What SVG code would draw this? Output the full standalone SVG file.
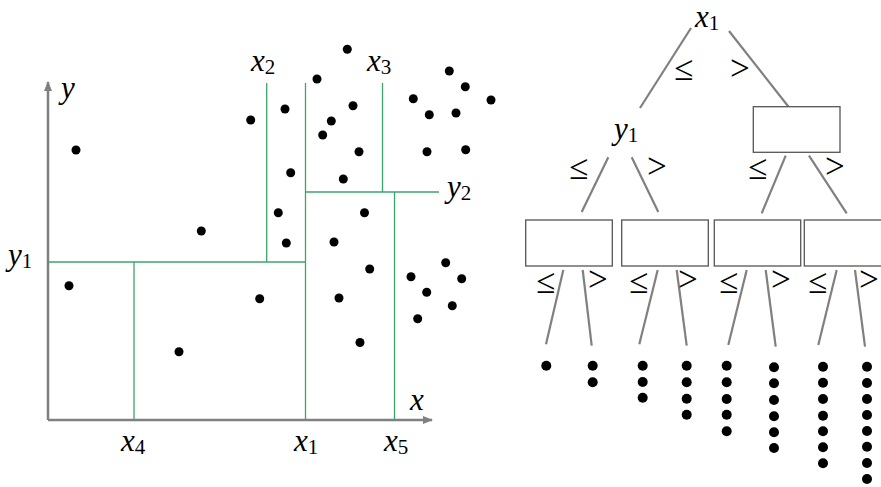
<svg xmlns="http://www.w3.org/2000/svg" width="881" height="487" viewBox="0 0 881 487">
<style>
.axis{stroke:#808080;stroke-width:2.5;fill:none}
.split{stroke:#3aa66b;stroke-width:1.3;fill:none}
.dot{fill:#000}
.edge{stroke:#808080;stroke-width:2.2;fill:none}
.box{stroke:#555;stroke-width:1.3;fill:#fff}
</style>
<defs>
<marker id="ah" viewBox="0 0 10 10" refX="9" refY="5" markerWidth="4" markerHeight="4" orient="auto" markerUnits="strokeWidth">
<path d="M0,1 L10,5 L0,9 z" fill="#808080"/>
</marker>
</defs>
<g id="plot">
<g id="axes">
<line class="axis" x1="48" y1="420" x2="48" y2="82" marker-end="url(#ah)"/>
<line class="axis" x1="48" y1="420" x2="432" y2="420" marker-end="url(#ah)"/>
</g>
<g id="splits">
<line class="split" x1="48" y1="262" x2="305" y2="262"/>
<line class="split" x1="134" y1="262" x2="134" y2="420"/>
<line class="split" x1="305.5" y1="83" x2="305.5" y2="420"/>
<line class="split" x1="266.7" y1="83" x2="266.7" y2="262"/>
<line class="split" x1="305" y1="192" x2="439" y2="192"/>
<line class="split" x1="382.5" y1="83" x2="382.5" y2="192"/>
<line class="split" x1="394.5" y1="192" x2="394.5" y2="420"/>
</g>
<g id="points">
<circle class="dot" cx="76" cy="150" r="4.5"/>
<circle class="dot" cx="250.7" cy="120" r="4.5"/>
<circle class="dot" cx="285" cy="109" r="4.5"/>
<circle class="dot" cx="290.7" cy="172.7" r="4.5"/>
<circle class="dot" cx="278.3" cy="212.7" r="4.5"/>
<circle class="dot" cx="286.3" cy="243" r="4.5"/>
<circle class="dot" cx="201.3" cy="231" r="4.5"/>
<circle class="dot" cx="69" cy="285.7" r="4.5"/>
<circle class="dot" cx="259.7" cy="298.7" r="4.5"/>
<circle class="dot" cx="179" cy="351.7" r="4.5"/>
<circle class="dot" cx="347.3" cy="49.3" r="4.5"/>
<circle class="dot" cx="317" cy="79" r="4.5"/>
<circle class="dot" cx="353" cy="105.7" r="4.5"/>
<circle class="dot" cx="331.3" cy="121" r="4.5"/>
<circle class="dot" cx="322.7" cy="135" r="4.5"/>
<circle class="dot" cx="359" cy="151.7" r="4.5"/>
<circle class="dot" cx="343.3" cy="179" r="4.5"/>
<circle class="dot" cx="449.3" cy="71" r="4.5"/>
<circle class="dot" cx="465.3" cy="86.7" r="4.5"/>
<circle class="dot" cx="413.3" cy="98.7" r="4.5"/>
<circle class="dot" cx="491" cy="100" r="4.5"/>
<circle class="dot" cx="429.3" cy="114.7" r="4.5"/>
<circle class="dot" cx="456" cy="113" r="4.5"/>
<circle class="dot" cx="427" cy="151.7" r="4.5"/>
<circle class="dot" cx="465.7" cy="149.7" r="4.5"/>
<circle class="dot" cx="364.5" cy="212.7" r="4.5"/>
<circle class="dot" cx="334" cy="242" r="4.5"/>
<circle class="dot" cx="369.7" cy="269" r="4.5"/>
<circle class="dot" cx="339" cy="298" r="4.5"/>
<circle class="dot" cx="360" cy="342.5" r="4.5"/>
<circle class="dot" cx="445.7" cy="262.7" r="4.5"/>
<circle class="dot" cx="411" cy="276.7" r="4.5"/>
<circle class="dot" cx="461.7" cy="278.7" r="4.5"/>
<circle class="dot" cx="426.7" cy="292.3" r="4.5"/>
<circle class="dot" cx="452.3" cy="305.7" r="4.5"/>
<circle class="dot" cx="417.7" cy="318.7" r="4.5"/>
</g>
<g id="plot-labels" font-family="Liberation Serif, serif" font-style="italic" font-size="31" fill="#000">
<text x="61" y="98">y</text>
<text x="410" y="410">x</text>
<text x="251" y="71">x<tspan font-style="normal" font-size="21" dy="3">2</tspan></text>
<text x="367" y="71">x<tspan font-style="normal" font-size="21" dy="3">3</tspan></text>
<text x="8" y="265">y<tspan font-style="normal" font-size="21" dy="3">1</tspan></text>
<text x="447" y="197">y<tspan font-style="normal" font-size="21" dy="3">2</tspan></text>
<text x="121" y="451">x<tspan font-style="normal" font-size="21" dy="3">4</tspan></text>
<text x="294" y="451">x<tspan font-style="normal" font-size="21" dy="3">1</tspan></text>
<text x="384" y="451">x<tspan font-style="normal" font-size="21" dy="3">5</tspan></text>
</g>
</g>
<g id="connectors">
<line class="edge" x1="691" y1="28" x2="640" y2="108"/>
<line class="edge" x1="729" y1="31" x2="788.5" y2="106.7"/>
<line class="edge" x1="608.3" y1="157.3" x2="581.7" y2="212"/>
<line class="edge" x1="631.7" y1="157.3" x2="658.3" y2="212"/>
<line class="edge" x1="785.7" y1="155.7" x2="761.7" y2="213.3"/>
<line class="edge" x1="809" y1="155.7" x2="846.7" y2="213.3"/>
<line class="edge" x1="563.3" y1="270" x2="546" y2="344.3"/>
<line class="edge" x1="582.7" y1="270" x2="591.7" y2="345.7"/>
<line class="edge" x1="657.7" y1="270" x2="639.3" y2="344.3"/>
<line class="edge" x1="676.7" y1="270" x2="686.7" y2="345.7"/>
<line class="edge" x1="746.7" y1="270" x2="728.3" y2="345"/>
<line class="edge" x1="765.7" y1="270" x2="775.7" y2="346.7"/>
<line class="edge" x1="836.7" y1="270" x2="818.3" y2="345"/>
<line class="edge" x1="855" y1="270" x2="865" y2="346.7"/>
</g>
<g id="edge-labels" font-family="Liberation Serif, serif" font-size="35" fill="#000">
<text x="674" y="80">≤</text>
<text x="730" y="80">&gt;</text>
<text x="569" y="179">≤</text>
<text x="647" y="178">&gt;</text>
<text x="748" y="179">≤</text>
<text x="825" y="178">&gt;</text>
<text x="536" y="293">≤</text>
<text x="588" y="291">&gt;</text>
<text x="629" y="293">≤</text>
<text x="678" y="291">&gt;</text>
<text x="719" y="293">≤</text>
<text x="771" y="291">&gt;</text>
<text x="808" y="293">≤</text>
<text x="859" y="291">&gt;</text>
</g>
<g id="node-root" font-family="Liberation Serif, serif" font-style="italic" font-size="31"><text x="695" y="27">x<tspan font-style="normal" font-size="21" dy="3">1</tspan></text></g>
<g id="node-y1" font-family="Liberation Serif, serif" font-style="italic" font-size="31"><text x="614" y="139">y<tspan font-style="normal" font-size="21" dy="3">1</tspan></text></g>
<g id="node-r"><rect class="box" x="753.3" y="106.7" width="86.7" height="45.6"/></g>
<g id="node-a"><rect class="box" x="525.7" y="220" width="86.6" height="46"/></g>
<g id="node-b"><rect class="box" x="621.7" y="220" width="86.6" height="46"/></g>
<g id="node-c"><rect class="box" x="714.3" y="220" width="86.4" height="46"/></g>
<g id="node-d"><rect class="box" x="804.3" y="220" width="86.6" height="46"/></g>
<g id="leaves">
<g id="leaf1"><circle class="dot" cx="546.3" cy="365.7" r="5"/></g>
<g id="leaf2"><circle class="dot" cx="592.7" cy="365.7" r="5"/><circle class="dot" cx="592.7" cy="382.3" r="5"/></g>
<g id="leaf3"><circle class="dot" cx="642.7" cy="365.7" r="5"/><circle class="dot" cx="642.7" cy="382" r="5"/><circle class="dot" cx="642.7" cy="397.7" r="5"/></g>
<g id="leaf4"><circle class="dot" cx="686.7" cy="365.7" r="5"/><circle class="dot" cx="686.7" cy="382.3" r="5"/><circle class="dot" cx="686.7" cy="398.7" r="5"/><circle class="dot" cx="686.7" cy="414.7" r="5"/></g>
<g id="leaf5"><circle class="dot" cx="726.7" cy="365.7" r="5"/><circle class="dot" cx="726.7" cy="382.3" r="5"/><circle class="dot" cx="726.7" cy="399" r="5"/><circle class="dot" cx="726.7" cy="414.7" r="5"/><circle class="dot" cx="726.7" cy="431.3" r="5"/></g>
<g id="leaf6"><circle class="dot" cx="774" cy="367.3" r="5"/><circle class="dot" cx="774" cy="383.3" r="5"/><circle class="dot" cx="774" cy="400" r="5"/><circle class="dot" cx="774" cy="416.3" r="5"/><circle class="dot" cx="774" cy="432.3" r="5"/><circle class="dot" cx="774" cy="448" r="5"/></g>
<g id="leaf7"><circle class="dot" cx="823" cy="366.7" r="5"/><circle class="dot" cx="823" cy="382.7" r="5"/><circle class="dot" cx="823" cy="399" r="5"/><circle class="dot" cx="823" cy="415.7" r="5"/><circle class="dot" cx="823" cy="431.3" r="5"/><circle class="dot" cx="823" cy="447.3" r="5"/><circle class="dot" cx="823" cy="463.3" r="5"/></g>
<g id="leaf8"><circle class="dot" cx="867" cy="366.7" r="5"/><circle class="dot" cx="867" cy="383" r="5"/><circle class="dot" cx="867" cy="399" r="5"/><circle class="dot" cx="867" cy="415" r="5"/><circle class="dot" cx="867" cy="431" r="5"/><circle class="dot" cx="867" cy="446.7" r="5"/><circle class="dot" cx="867" cy="463" r="5"/><circle class="dot" cx="867" cy="479" r="5"/></g>
</g>
</svg>
